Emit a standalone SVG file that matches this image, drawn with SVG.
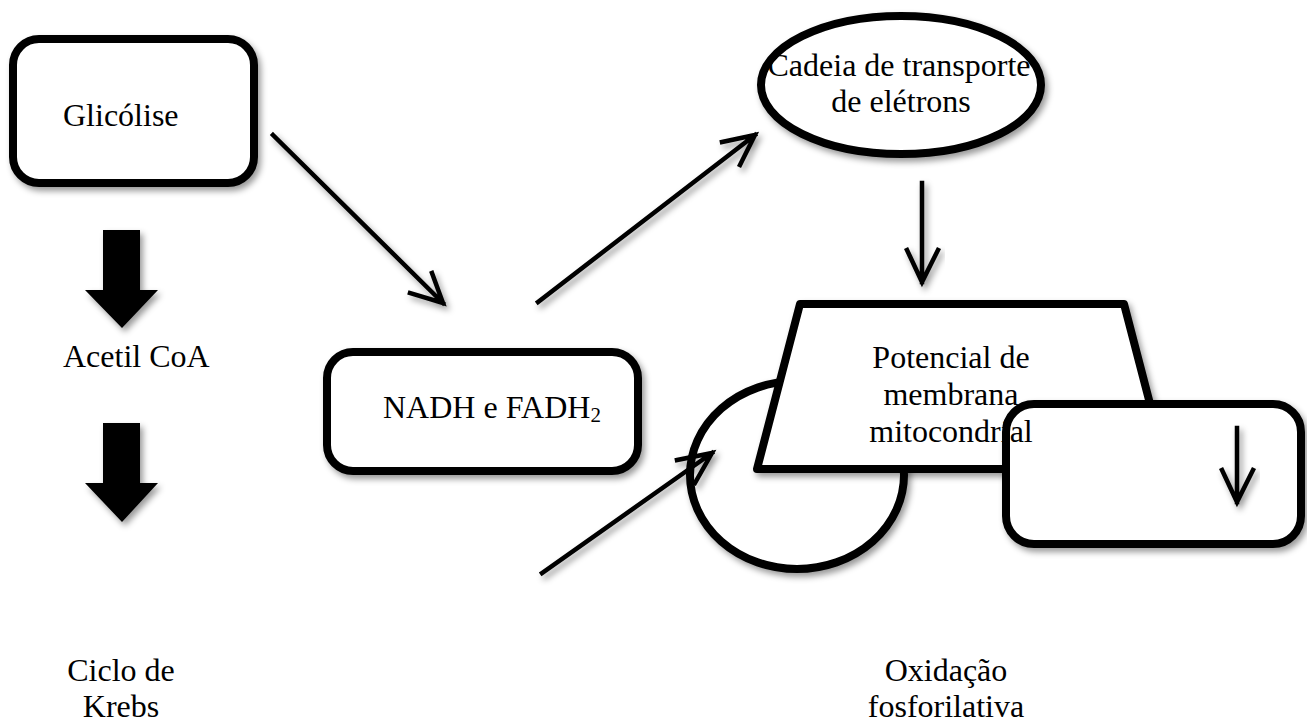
<svg xmlns="http://www.w3.org/2000/svg" width="1307" height="724" viewBox="0 0 1307 724">
  <defs>
    <filter id="sh" x="-20%" y="-20%" width="140%" height="140%">
      <feDropShadow dx="3" dy="4" stdDeviation="3" flood-color="#000" flood-opacity="0.4"/>
    </filter>
  </defs>
  <style>
    .shape { fill: #fff; stroke: #000; stroke-width: 8; stroke-linejoin: round; filter: url(#sh); }
    .block { fill: #000; stroke: none; filter: url(#sh); }
    .conn { fill: none; stroke: #000; stroke-width: 4.5; stroke-linecap: square; stroke-linejoin: miter; filter: url(#sh); }
    .t { font-family: "Liberation Serif", "Times New Roman", serif; font-size: 32px; fill: #000; }
  </style>
  <rect width="1307" height="724" fill="#fff"/>

  <g id="glicolise">
    <rect class="shape" x="13" y="39" width="241" height="144" rx="26"/>
    <text class="t" x="63" y="126">Glicólise</text>
  </g>

  <g id="block-arrow-1">
    <polygon class="block" points="103,230 140,230 140,290 158,290 122,328 85,290 103,290"/>
  </g>

  <g id="acetil-coa">
    <text class="t" x="63" y="367">Acetil CoA</text>
  </g>

  <g id="block-arrow-2">
    <polygon class="block" points="103,423 140,423 140,483 158,483 122,522 85,483 103,483"/>
  </g>

  <g id="ciclo-krebs">
    <text class="t" x="121" y="681" text-anchor="middle">Ciclo de</text>
    <text class="t" x="121" y="717" text-anchor="middle">Krebs</text>
  </g>

  <g id="nadh">
    <rect class="shape" x="327" y="352" width="311" height="119" rx="26"/>
    <text class="t" x="383" y="418">NADH e FADH<tspan font-size="21" dy="4">2</tspan></text>
  </g>

  <g id="cadeia">
    <ellipse class="shape" cx="901" cy="85" rx="140" ry="69"/>
    <text class="t" x="899" y="76" text-anchor="middle">Cadeia de transporte</text>
    <text class="t" x="901" y="112" text-anchor="middle">de elétrons</text>
  </g>

  <g id="circle">
    <ellipse class="shape" cx="797" cy="475" rx="107" ry="94"/>
  </g>

  <g id="potencial">
    <polygon class="shape" points="800,304 1124,304 1167,469 757,469"/>
  </g>

  <g id="rect-right">
    <rect class="shape" x="1006" y="404" width="295" height="140" rx="28"/>
  </g>

  <g id="potencial-text">
    <text class="t" x="951" y="368" text-anchor="middle">Potencial de</text>
    <text class="t" x="951" y="405" text-anchor="middle">membrana</text>
    <text class="t" x="951" y="442" text-anchor="middle">mitocondrial</text>
  </g>

  <g id="oxidacao">
    <text class="t" x="946" y="681" text-anchor="middle">Oxidação</text>
    <text class="t" x="946" y="717" text-anchor="middle">fosforilativa</text>
  </g>

  <g id="connectors">
    <path class="conn" d="M273,135 L443,303 M432,273 L443,303 L410,293"/>
    <path class="conn" d="M538,302 L755,135 M722,142 L755,135 L740,165"/>
    <path class="conn" d="M542,573 L712,453 M677,460 L712,453 L695,483"/>
    <path class="conn" d="M922,183 L922,282 M907,250 L922,282 L938,250"/>
    <path class="conn" d="M1237,428 L1237,502 M1222,470 L1237,502 L1253,470"/>
  </g>
</svg>
